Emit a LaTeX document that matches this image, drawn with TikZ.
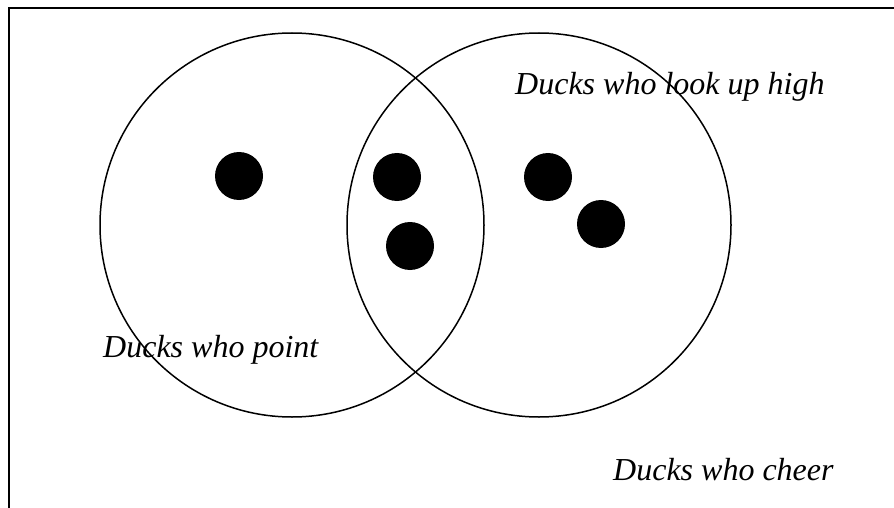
\documentclass[tikz,border=0pt]{standalone}
\usepackage{fontspec}
\setmainfont{Liberation Serif}
\usetikzlibrary{positioning}
\tikzset{
  vset/.style={draw, circle, line width=1.5pt, inner sep=0pt, minimum size=384pt},
  duck/.style={fill=black, circle, inner sep=0pt, minimum size=48pt},
  vlabel/.style={font=\fontsize{32}{36}\selectfont\itshape, anchor=base west, inner sep=0pt},
  frame/.style={draw, line width=2pt}
}
\begin{document}
\begin{tikzpicture}[x=1pt, y=-1pt]
  \useasboundingbox (0,0) rectangle (894,508);
  \clip (0,0) rectangle (894,508);
  \draw[frame] (9,8) rectangle (920,540);
  % the two sets
  \node[vset] (point) at (292,225) {};
  \node[vset] (look) at (539,225) {};
  % ducks
  \node[duck] (d1) at (239,176) {};
  \node[duck] (d2) at (397,177) {};
  \node[duck] (d3) at (410,246) {};
  \node[duck] (d4) at (548,177) {};
  \node[duck] (d5) at (601,224) {};
  % labels
  \node[vlabel] (lpoint) at (103,357) {Ducks who point};
  \node[vlabel] (llook) at (515,95) {Ducks who look up high};
  \node[vlabel] (lcheer) at (613,480) {Ducks who cheer};
\end{tikzpicture}
\end{document}
